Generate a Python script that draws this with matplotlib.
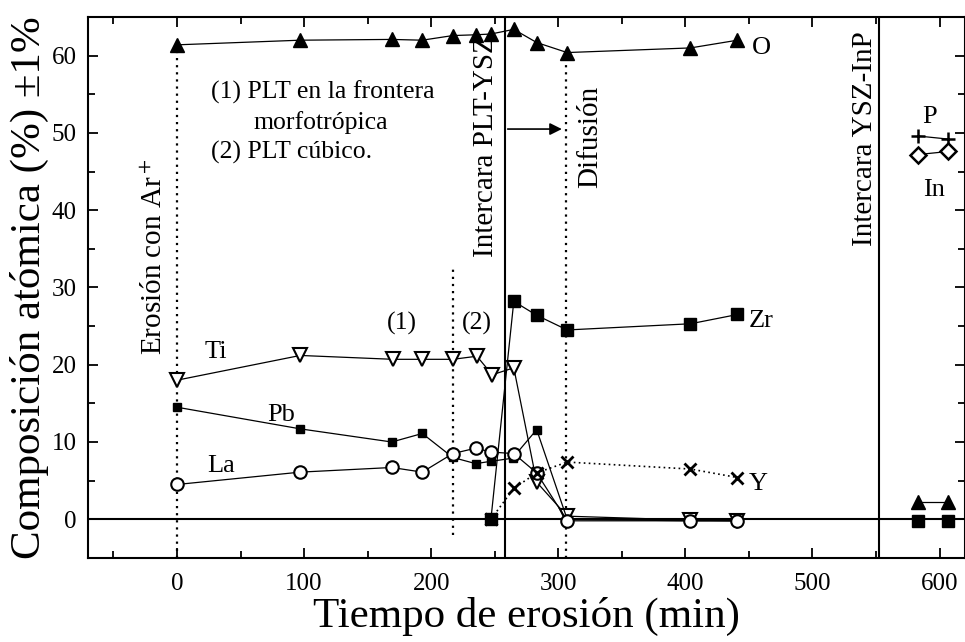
import matplotlib
matplotlib.use("Agg")
import matplotlib.pyplot as plt
from matplotlib.ticker import MultipleLocator

plt.rcParams['font.family'] = ['Liberation Serif', 'DejaVu Serif']
plt.rcParams['mathtext.fontset'] = 'stix'

# erosion time (min) for each series
t_O = [0, 97, 169, 193, 217, 235, 247, 265, 283, 307, 404, 441]
O = [61.4, 62.0, 62.1, 62.0, 62.6, 62.7, 62.8, 63.4, 61.7, 60.4, 61.0, 62.0]

t_Ti = [0, 97, 170, 193, 217, 236, 248, 265, 283, 307, 404, 441]
Ti = [18.0, 21.2, 20.7, 20.7, 20.7, 21.1, 18.7, 19.6, 4.8, 0.4, -0.1, -0.2]

t_Pb = [0, 97, 169, 193, 217, 235, 247, 264, 283, 307, 404, 441]
Pb = [14.5, 11.7, 10.0, 11.1, 8.0, 7.2, 7.5, 7.9, 11.6, 0.0, -0.2, -0.2]

t_La = [0, 97, 169, 193, 217, 235, 247, 265, 283, 307, 404, 441]
La = [4.5, 6.1, 6.7, 6.1, 8.5, 9.2, 8.7, 8.5, 6.0, -0.2, -0.2, -0.2]

t_Zr = [247, 265, 283, 307, 404, 441]
Zr = [0.0, 28.2, 26.4, 24.5, 25.3, 26.5]

t_Y = [247, 265, 283, 307, 404, 441]
Y = [0.0, 4.0, 6.0, 7.4, 6.5, 5.4]

t_R = [583, 607]
O_R = [2.2, 2.2]
Zr_R = [-0.2, -0.2]
P = [49.6, 49.2]
In = [47.2, 47.6]

fig = plt.figure(figsize=(9.65, 6.42), dpi=100)
ax = fig.add_axes([0.0912, 0.131, 0.9088, 0.8425])

ms_kw = dict(color='black', lw=0.9)
ax.plot(t_O, O, marker='^', ms=10, mfc='black', **ms_kw)
ax.plot(t_Ti, Ti, marker='v', ms=10, mfc='white', mew=1.5, **ms_kw)
ax.plot(t_Pb, Pb, marker='s', ms=5.5, mfc='black', **ms_kw)
ax.plot(t_La, La, marker='o', ms=9, mfc='white', mew=1.5, **ms_kw)
ax.plot(t_Zr, Zr, marker='s', ms=9, mfc='black', **ms_kw)
ax.plot(t_Y, Y, marker='x', ms=9, mew=2, color='black', lw=1.2, ls=(0, (1, 2)))

ax.plot(t_R, O_R, marker='^', ms=10, mfc='black', **ms_kw)
ax.plot(t_R, Zr_R, marker='s', ms=9, mfc='black', ls='none', color='black')
ax.plot(t_R, P, marker='+', ms=10, mew=1.8, **ms_kw)
ax.plot(t_R, In, marker='D', ms=8, mfc='white', mew=1.8, **ms_kw)

# reference lines
ax.axhline(0, color='black', lw=1.5, zorder=1)
dot = dict(color='black', lw=1.6, ls=(0, (1, 2.2)), zorder=1)
ax.plot([0, 0], [-5, 60.6], **dot)
ax.plot([217, 217], [-2, 32.6], **dot)
ax.plot([306, 306], [-5, 59.6], **dot)
ax.axvline(258, color='black', lw=1.5)
ax.axvline(552, color='black', lw=1.5)

ax.annotate('', xy=(305, 50.5), xytext=(258, 50.5),
            arrowprops=dict(arrowstyle='-|>', color='black', lw=1.2, mutation_scale=18))

fr = 21
ax.text(-17, 34, 'Erosión con Ar$^+$', rotation=90, ha='center', va='center', fontsize=fr)
ax.text(243, 48.3, 'Intercara PLT-YSZ', rotation=90, ha='center', va='center', fontsize=fr)
ax.text(325, 49.5, 'Difusión', rotation=90, ha='center', va='center', fontsize=fr)
ax.text(541, 49.2, 'Intercara YSZ-InP', rotation=90, ha='center', va='center', fontsize=fr)

fs = 18.5
ax.text(27, 55.2, '(1) PLT en la frontera', ha='left', va='center', fontsize=fs)
ax.text(113, 51.4, 'morfotrópica', ha='center', va='center', fontsize=fs)
ax.text(27, 47.5, '(2) PLT cúbico.', ha='left', va='center', fontsize=fs)
ax.text(177, 25.4, '(1)', ha='center', va='center', fontsize=fs)
ax.text(236, 25.4, '(2)', ha='center', va='center', fontsize=fs)

fe = 19
ax.text(22, 21.6, 'Ti', ha='left', va='center', fontsize=fe)
ax.text(82, 13.5, 'Pb', ha='center', va='center', fontsize=fe)
ax.text(35, 6.9, 'La', ha='center', va='center', fontsize=fe)
ax.text(452, 61.0, 'O', ha='left', va='center', fontsize=fe)
ax.text(450, 25.7, 'Zr', ha='left', va='center', fontsize=fe)
ax.text(450, 4.6, 'Y', ha='left', va='center', fontsize=fe)
ax.text(592, 52.0, 'P', ha='center', va='center', fontsize=fe)
ax.text(596, 42.6, 'In', ha='center', va='center', fontsize=fe)

ax.set_xlim(-70, 620)
ax.set_ylim(-5, 65)
ax.xaxis.set_major_locator(MultipleLocator(100))
ax.xaxis.set_minor_locator(MultipleLocator(50))
ax.yaxis.set_major_locator(MultipleLocator(10))
ax.yaxis.set_minor_locator(MultipleLocator(5))
ax.tick_params(which='both', direction='in', top=True, right=True, width=1.3,
               labelsize=18, pad=8)
ax.tick_params(axis='x', which='both', pad=11)
ax.tick_params(which='major', length=7)
ax.tick_params(which='minor', length=5)
for s in ax.spines.values():
    s.set_linewidth(1.5)

ax.set_xlabel('Tiempo de erosión (min)', fontsize=31, labelpad=1)
ax.set_ylabel('Composición atómica (%) ±1%', fontsize=31, labelpad=2)

fig.savefig('out.png', dpi=100)
